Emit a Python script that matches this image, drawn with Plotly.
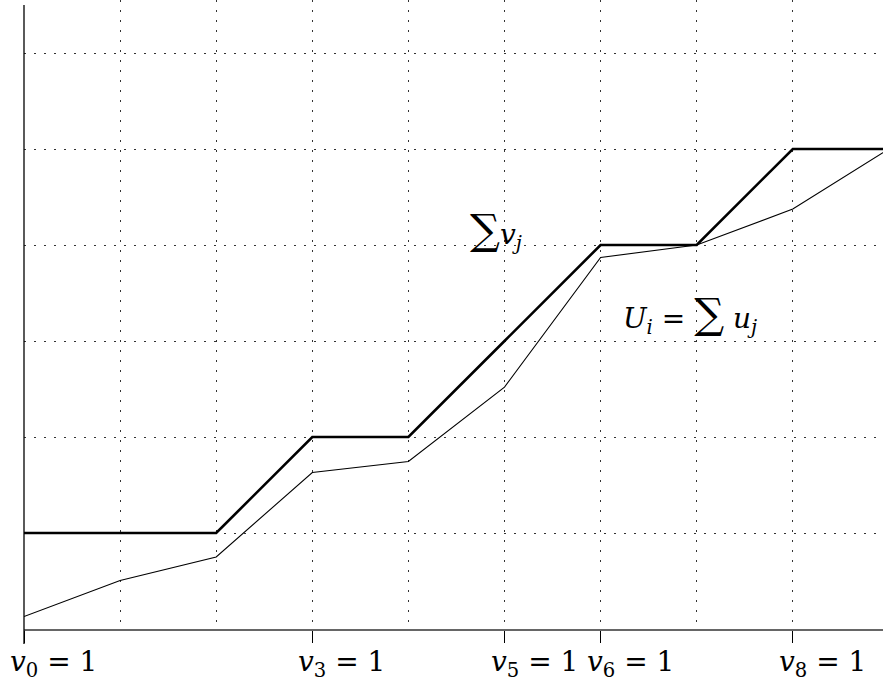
import plotly.graph_objects as go

# Partial sums: bold staircase of sum(v_j) and the thinner U_i = sum(u_j)
steps = [0, 1, 2, 3, 4, 5, 6, 7, 8, 9]
sum_v = [1, 1, 1, 2, 2, 3, 4, 4, 5, 5]
sum_u = [0.13, 0.505, 0.75, 1.63, 1.745, 2.52, 3.87, 4.0, 4.375, 5.0]

tick_pos = [0, 3, 5, 6, 8]
tick_txt = ["<i>v</i><sub>0</sub> = 1", "<i>v</i><sub>3</sub> = 1", "<i>v</i><sub>5</sub> = 1",
            "<i>v</i><sub>6</sub> = 1", "<i>v</i><sub>8</sub> = 1"]

SERIF = "DejaVu Serif"

fig = go.Figure()
fig.add_trace(go.Scatter(x=steps, y=sum_u, mode="lines",
                         line=dict(color="black", width=1.1), cliponaxis=True))
fig.add_trace(go.Scatter(x=steps, y=sum_v, mode="lines",
                         line=dict(color="black", width=2.6), cliponaxis=True))

grid = dict(showgrid=True, gridcolor="#333", gridwidth=1.4, griddash="2px,8px")

# tick labels start just left of each tick, with the v glyph under the tick
labels = [dict(x=p, y=0, xref="x", yref="paper", xanchor="left", yanchor="top",
               xshift=-16, yshift=-14, showarrow=False, text=t,
               font=dict(family=SERIF, size=28, color="black"))
          for p, t in zip(tick_pos, tick_txt)]

fig.update_layout(
    width=883, height=685,
    margin=dict(l=24, r=0, t=0, b=56),
    paper_bgcolor="white", plot_bgcolor="white",
    showlegend=False,
    font=dict(family=SERIF),
    xaxis=dict(range=[0, 859 / 96.1], tickvals=tick_pos, showticklabels=False,
               ticks="outside", ticklen=12, tickcolor="black", tickwidth=1,
               showline=True, linecolor="#666", linewidth=1.5, zeroline=False,
               minor=dict(dtick=1, tick0=0, ticks="", **grid),
               **grid),
    yaxis=dict(range=[0, 629 / 96.0], dtick=1, tick0=0, showticklabels=False,
               ticks="", zeroline=False, showline=False, **grid),
    shapes=[dict(type="line", xref="paper", yref="paper", x0=0, x1=0,
                 y0=-0.024, y1=0.992, line=dict(color="black", width=1.3))],
    annotations=labels + [
        dict(x=4.62, y=4.16, xref="x", yref="y", xanchor="left", showarrow=False,
             text="<span style='font-size:42px'>∑</span><i>v<sub>j</sub></i>",
             font=dict(family=SERIF, size=28, color="black")),
        dict(x=6.21, y=3.28, xref="x", yref="y", xanchor="left", showarrow=False,
             text="<i>U<sub>i</sub></i> = <span style='font-size:42px'>∑</span> <i>u<sub>j</sub></i>",
             font=dict(family=SERIF, size=28, color="black")),
    ],
)

fig.write_html("out.html")
